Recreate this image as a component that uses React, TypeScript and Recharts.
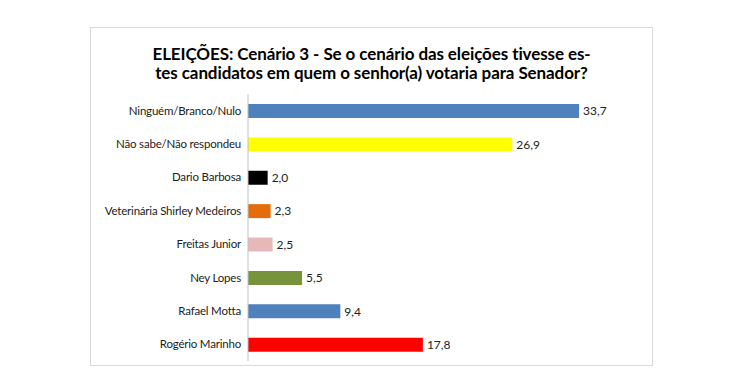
import { BarChart, Bar, XAxis, YAxis, Cell, LabelList } from "recharts"

const categories = [
  "Ninguém/Branco/Nulo",
  "Não sabe/Não respondeu",
  "Dario Barbosa",
  "Veterinária Shirley Medeiros",
  "Freitas Junior",
  "Ney Lopes",
  "Rafael Motta",
  "Rogério Marinho",
]

const values = [33.7, 26.9, 2.0, 2.3, 2.5, 5.5, 9.4, 17.8]

const barColors = ["#4f81bd", "#ffff00", "#000000", "#e46c0a", "#e6b9b8", "#77933c", "#4f81bd", "#ff0000"]

const data = categories.map((name, i) => ({ name, value: values[i] }))

const font = "Lato, 'Open Sans', sans-serif"

// plain tick so long names stay on one line
const CategoryTick = (props: any) => {
  const { x, y, payload } = props
  return (
    <text x={x - 5} y={y} dy={4} textAnchor="end" fontSize={11.5} letterSpacing={-0.2} fill="#222" fontFamily={font}>
      {payload.value}
    </text>
  )
}

export default function App() {
  return (
    <div style={{ position: "absolute", left: 0, top: 0, width: 750, height: 390, background: "#fff", fontFamily: font }}>
      <div
        style={{
          position: "absolute",
          left: 90,
          top: 27,
          width: 561,
          height: 337,
          border: "1px solid #d9d9d9",
        }}
      >
        <div
          style={{
            position: "absolute",
            left: 0,
            top: 16,
            width: 561,
            textAlign: "center",
            fontWeight: 700,
            fontSize: 17,
            lineHeight: "19px",
            letterSpacing: -0.1,
            color: "#000",
          }}
        >
          ELEIÇÕES: Cenário 3 - Se o cenário das eleições tivesse es-
          <br />
          tes candidatos em quem o senhor(a) votaria para Senador?
        </div>
        <div style={{ position: "absolute", left: 0, top: 66 }}>
          <BarChart
            layout="vertical"
            width={561}
            height={267}
            data={data}
            margin={{ top: 0, right: 11, bottom: 0, left: 0 }}
          >
            <XAxis type="number" domain={[0, 40]} hide />
            <YAxis
              type="category"
              dataKey="name"
              width={157}
              axisLine={{ stroke: "#bfbfbf" }}
              tickLine={false}
              tickSize={0}
              interval={0}
              tick={<CategoryTick />}
            />
            <Bar dataKey="value" barSize={14} isAnimationActive={false}>
              {data.map((d, i) => (
                <Cell key={d.name} fill={barColors[i]} />
              ))}
              <LabelList
                dataKey="value"
                position="right"
                offset={4}
                fill="#222"
                fontSize={12}
                fontFamily={font}
                formatter={(v: number) => v.toFixed(1).replace(".", ",")}
              />
            </Bar>
          </BarChart>
        </div>
      </div>
    </div>
  )
}
